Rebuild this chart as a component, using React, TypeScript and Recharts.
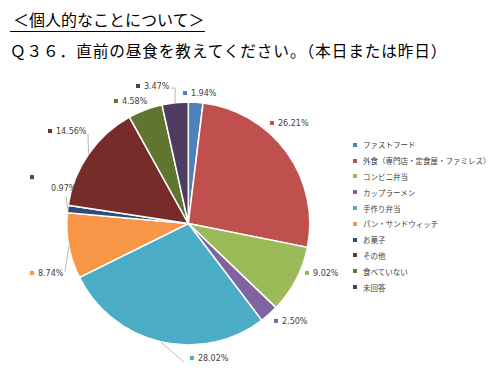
import React from "react";
import { PieChart, Pie, Cell, Legend } from "recharts";

const categories = [
  "ファストフード",
  "外食（専門店・定食屋・ファミレス）",
  "コンビニ弁当",
  "カップラーメン",
  "手作り弁当",
  "パン・サンドウィッチ",
  "お菓子",
  "その他",
  "食べていない",
  "未回答",
];
const shares = [1.94, 26.21, 9.02, 2.5, 28.02, 8.74, 0.97, 14.56, 4.58, 3.47];
const colors = [
  "#4F81BD",
  "#C0504D",
  "#9BBB59",
  "#8064A2",
  "#4BACC6",
  "#F79646",
  "#2C4D75",
  "#772C2A",
  "#5F7530",
  "#4D3B62",
];

// label placement, offsets from the slice's outer edge point (Excel "best fit" look)
type LabelPos = {
  dx: number;
  dy: number;
  tx?: number;
  ty?: number;
  leader?: [number, number][];
};
const LABEL_LAYOUT: LabelPos[] = [
  { dx: -10.7, dy: -9.2 },
  { dx: -14.8, dy: -29.4 },
  { dx: 11, dy: -6.8 },
  { dx: 6.9, dy: 6.7 },
  { dx: 31.4, dy: 16.2, leader: [[23.4, 20.2]] },
  { dx: -36.9, dy: 27.1, leader: [[-3.9, 26.1]] },
  { dx: -35.7, dy: -31.9, tx: 19, ty: 11, leader: [[-1.7, -12.9]] },
  { dx: -38.6, dy: -23.1, leader: [[-0.6, -20.1]] },
  { dx: -29.4, dy: -8.9 },
  { dx: -37.1, dy: -16.7, leader: [[-4.1, -14.7], [0, -14.7]] },
];

const data = categories.map((name, i) => ({ name, value: shares[i] }));

const RADIAN = Math.PI / 180;

function renderLabel(props: any) {
  const { cx, cy, midAngle, outerRadius, index, value } = props;
  const ex = cx + outerRadius * Math.cos(-midAngle * RADIAN);
  const ey = cy + outerRadius * Math.sin(-midAngle * RADIAN);
  const l = LABEL_LAYOUT[index];
  const mx = ex + l.dx;
  const my = ey + l.dy;
  const tx = mx + (l.tx ?? 6);
  const ty = my + (l.ty ?? 0.5);
  const pts = l.leader
    ? [...l.leader.map(([px, py]) => `${ex + px},${ey + py}`), `${ex},${ey}`].join(" ")
    : null;
  return (
    <g key={`lbl-${index}`}>
      {pts && <polyline points={pts} fill="none" stroke="#a6a6a6" strokeWidth={0.8} />}
      <rect x={mx - 2} y={my - 2} width={4} height={4} fill={colors[index]} />
      <text
        x={tx}
        y={ty}
        dominantBaseline="central"
        fontSize={8}
        fill="#404040"
        fontFamily="DejaVu Sans"
      >
        {Number(value).toFixed(2)}%
      </text>
    </g>
  );
}

function LegendList() {
  return (
    <div style={{ fontFamily: "'Noto Sans CJK JP'", fontSize: 7.5, color: "#404040" }}>
      {categories.map((c, i) => (
        <div key={c} style={{ height: 15.8, display: "flex", alignItems: "center" }}>
          <span
            style={{
              display: "inline-block",
              width: 4,
              height: 4,
              background: colors[i],
              marginRight: 6,
            }}
          />
          <span style={{ whiteSpace: "nowrap" }}>{c}</span>
        </div>
      ))}
    </div>
  );
}

export default function App() {
  return (
    <div
      style={{
        position: "absolute",
        left: 0,
        top: 0,
        width: 500,
        height: 368,
        background: "#fff",
        overflow: "hidden",
      }}
    >
      <div
        style={{
          position: "absolute",
          left: 10,
          top: 7,
          fontFamily: "'Noto Sans CJK JP'",
          fontSize: 16,
          lineHeight: "24px",
          color: "#000",
          borderBottom: "1.5px solid #000",
          paddingLeft: 3,
          paddingRight: 0,
          height: 24,
          whiteSpace: "nowrap",
        }}
      >
        ＜個人的なことについて＞
      </div>
      <div
        style={{
          position: "absolute",
          left: 10,
          top: 39,
          fontFamily: "'Noto Sans CJK JP'",
          fontSize: 15.7,
          lineHeight: "24px",
          letterSpacing: 0.85,
          color: "#000",
          whiteSpace: "nowrap",
        }}
      >
        Ｑ３６．直前の昼食を教えてください。（本日または昨日）
      </div>
      <PieChart width={500} height={368} style={{ position: "absolute", left: 0, top: 0 }}>
        <Pie
          data={data}
          dataKey="value"
          nameKey="name"
          cx={183.3}
          cy={218.5}
          outerRadius={121.5}
          startAngle={90}
          endAngle={-270}
          stroke="#fff"
          strokeWidth={1.5}
          label={renderLabel}
          labelLine={false}
          isAnimationActive={false}
        >
          {data.map((d, i) => (
            <Cell key={d.name} fill={colors[i]} />
          ))}
        </Pie>
        <Legend
          layout="vertical"
          align="right"
          verticalAlign="top"
          wrapperStyle={{ left: 353, top: 137, width: 147 }}
          content={() => <LegendList />}
        />
      </PieChart>
    </div>
  );
}
